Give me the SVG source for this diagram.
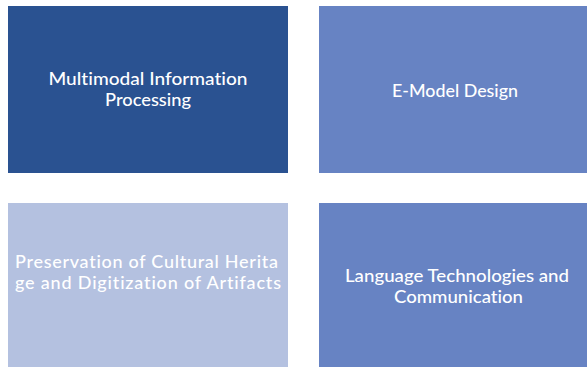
<svg xmlns="http://www.w3.org/2000/svg" width="587" height="367" viewBox="0 0 587 367">
<style>
.t{font-family:Lato,"Open Sans","Liberation Sans",sans-serif;font-size:18px;font-weight:500;fill:#ffffff;font-variant-ligatures:none;}
.c{text-anchor:middle;}
</style>
<rect width="587" height="367" fill="#ffffff"/>
<g id="node-multimodal">
<rect x="8" y="6" width="280" height="167" fill="#2A5291"/>
<text class="t c" x="148" y="85" textLength="199" lengthAdjust="spacingAndGlyphs">Multimodal Information</text>
<text class="t c" x="148" y="106" textLength="86" lengthAdjust="spacingAndGlyphs">Processing</text>
</g>
<g id="node-emodel">
<rect x="319" y="6" width="268" height="167" fill="#6783C3"/>
<text class="t c" x="455" y="97" textLength="126" lengthAdjust="spacingAndGlyphs">E-Model Design</text>
</g>
<g id="node-preservation">
<rect x="8" y="203" width="280" height="164" fill="#B4C1E0"/>
<text class="t" x="15" y="268" textLength="263" lengthAdjust="spacing">Preservation of Cultural Herita</text>
<text class="t" x="15" y="289" textLength="266" lengthAdjust="spacing">ge and Digitization of Artifacts</text>
</g>
<g id="node-language">
<rect x="319" y="203" width="268" height="164" fill="#6783C3"/>
<text class="t c" x="457" y="282" textLength="224" lengthAdjust="spacingAndGlyphs">Language Technologies and</text>
<text class="t c" x="458.5" y="303" textLength="129" lengthAdjust="spacingAndGlyphs">Communication</text>
</g>
<g id="connectors"></g>
</svg>
